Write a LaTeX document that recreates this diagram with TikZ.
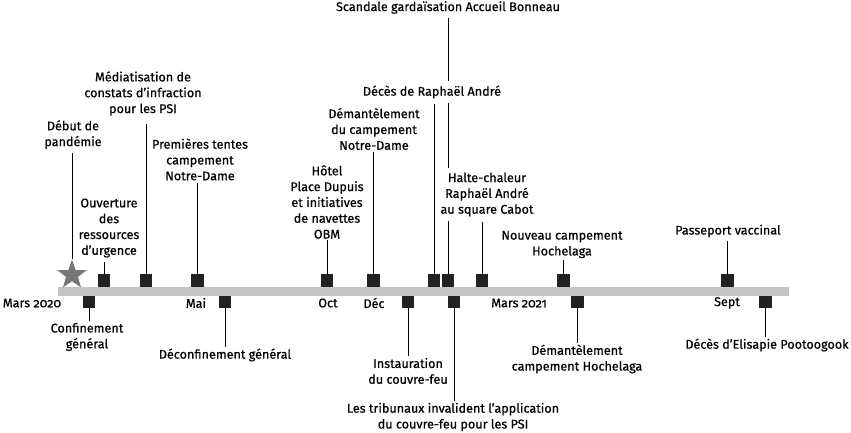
\documentclass[tikz,border=0pt]{standalone}
\usepackage{fontspec}
\setmainfont{Fira Sans}[Numbers=OldStyle,FakeBold=0.6]
\usetikzlibrary{shapes.geometric}
\definecolor{barcol}{HTML}{C4C4C4}
\definecolor{sqcol}{HTML}{222222}
\definecolor{starcol}{HTML}{777777}
\tikzset{
  evbox/.style={rectangle,fill=sqcol,minimum size=12.5pt,inner sep=0pt},
  lab/.style={align=center,font=\fontsize{12.6}{15.8}\selectfont,inner sep=1.5pt},
  mon/.style={font=\fontsize{12.6}{15.8}\selectfont,inner sep=0pt},
  conn/.style={line width=0.9pt,black},
  wlab/.style={lab,fill=white,inner xsep=2pt,inner ysep=5pt}
}
\begin{document}
\begin{tikzpicture}[x=1pt,y=-1pt]
\useasboundingbox (0,0) rectangle (851,433);
% bar
\node[rectangle,fill=barcol,minimum width=731pt,minimum height=9pt,inner sep=0pt,anchor=west] (bar) at (58,291.5) {};
% star
\node[star,star points=5,star point ratio=2.5,fill=starcol,minimum size=31pt,inner sep=0pt] (st) at (72,275) {};
% upper squares
\node[evbox] (s1) at (104,280.5) {};
\node[evbox] (s2) at (146,280.5) {};
\node[evbox] (s3) at (197.5,280.5) {};
\node[evbox] (s4) at (327,280.5) {};
\node[evbox] (s5) at (373.5,280.5) {};
\node[evbox] (s6) at (434,280.5) {};
\node[evbox] (s7) at (448,280.5) {};
\node[evbox] (s8) at (482,280.5) {};
\node[evbox] (s9) at (563.5,280.5) {};
\node[evbox] (s10) at (727.5,280.5) {};
% lower squares
\node[evbox] (d1) at (89,302) {};
\node[evbox] (d2) at (225,302) {};
\node[evbox] (d3) at (408,302) {};
\node[evbox] (d4) at (454,302) {};
\node[evbox] (d5) at (577.5,302) {};
\node[evbox] (d6) at (765.5,302) {};
% month labels
\node[mon] (m1) at (32,303) {Mars 2020};
\node[mon] (m2) at (196,303) {Mai};
\node[mon] (m3) at (328,303) {Oct};
\node[mon] (m4) at (374,303) {Déc};
\node[mon] (m5) at (519,303) {Mars 2021};
\node[mon] (m6) at (727,303) {Sept};
% scandale line first (behind labels)
\node[lab] (l7) at (448,7.5) {Scandale gardaïsation Accueil Bonneau};
\draw[conn,shorten >=3pt] (s7.north) -- (s7.north |- l7.south);
% upper labels
\node[lab] (l0) at (73,134.5) {Début de\\pandémie};
\node[lab] (l1) at (109,228) {Ouverture\\des\\ressources\\d’urgence};
\node[lab] (l2) at (143,93.5) {Médiatisation de\\constats d’infraction\\pour les PSI};
\node[lab] (l3) at (200,159.5) {Premières tentes\\campement\\Notre-Dame};
\node[lab] (l4) at (327,202) {Hôtel\\Place Dupuis\\et initiatives\\de navettes\\OBM};
\node[lab] (l5) at (374,129) {Démantèlement\\du campement\\Notre-Dame};
\node[wlab] (l6) at (432,92) {Décès de Raphaël André};
\node[wlab] (l8) at (487,194.5) {Halte-chaleur\\Raphaël André\\au square Cabot};
\node[lab] (l9) at (562,244.5) {Nouveau campement\\Hochelaga};
\node[lab] (l10) at (728,231) {Passeport vaccinal};
% lower labels
\node[lab] (b1) at (87,337) {Confinement\\général};
\node[lab] (b2) at (225,355) {Déconfinement général};
\node[lab] (b3) at (408,371) {Instauration\\du couvre-feu};
\node[lab] (b4) at (453,417) {Les tribunaux invalident l’application\\du couvre-feu pour les PSI};
\node[lab] (b5) at (577,359) {Démantèlement\\campement Hochelaga};
\node[lab] (b6) at (767,345) {Décès d’Elisapie Pootoogook};
% upper connectors
\draw[conn,shorten >=3pt] (st.north) -- (st.north |- l0.south);
\draw[conn,shorten >=3pt] (s1.north) -- (s1.north |- l1.south);
\draw[conn,shorten >=7pt] (s2.north) -- (s2.north |- l2.south);
\draw[conn,shorten >=1pt] (s3.north) -- (s3.north |- l3.south);
\draw[conn] (s4.north) -- (s4.north |- l4.south);
\draw[conn] (s5.north) -- (s5.north |- l5.south);
\draw[conn] (s6.north) -- (s6.north |- l6.south);
\draw[conn] (s8.north) -- (s8.north |- l8.south);
\draw[conn] (s9.north) -- (s9.north |- l9.south);
\draw[conn,shorten >=2pt] (s10.north) -- (s10.north |- l10.south);
% lower connectors
\draw[conn] (d1.south) -- (d1.south |- b1.north);
\draw[conn] (d2.south) -- (d2.south |- b2.north);
\draw[conn] (d3.south) -- (d3.south |- b3.north);
\draw[conn] (d4.south) -- (d4.south |- b4.north);
\draw[conn] (d5.south) -- (d5.south |- b5.north);
\draw[conn] (d6.south) -- (d6.south |- b6.north);
\end{tikzpicture}
\end{document}
